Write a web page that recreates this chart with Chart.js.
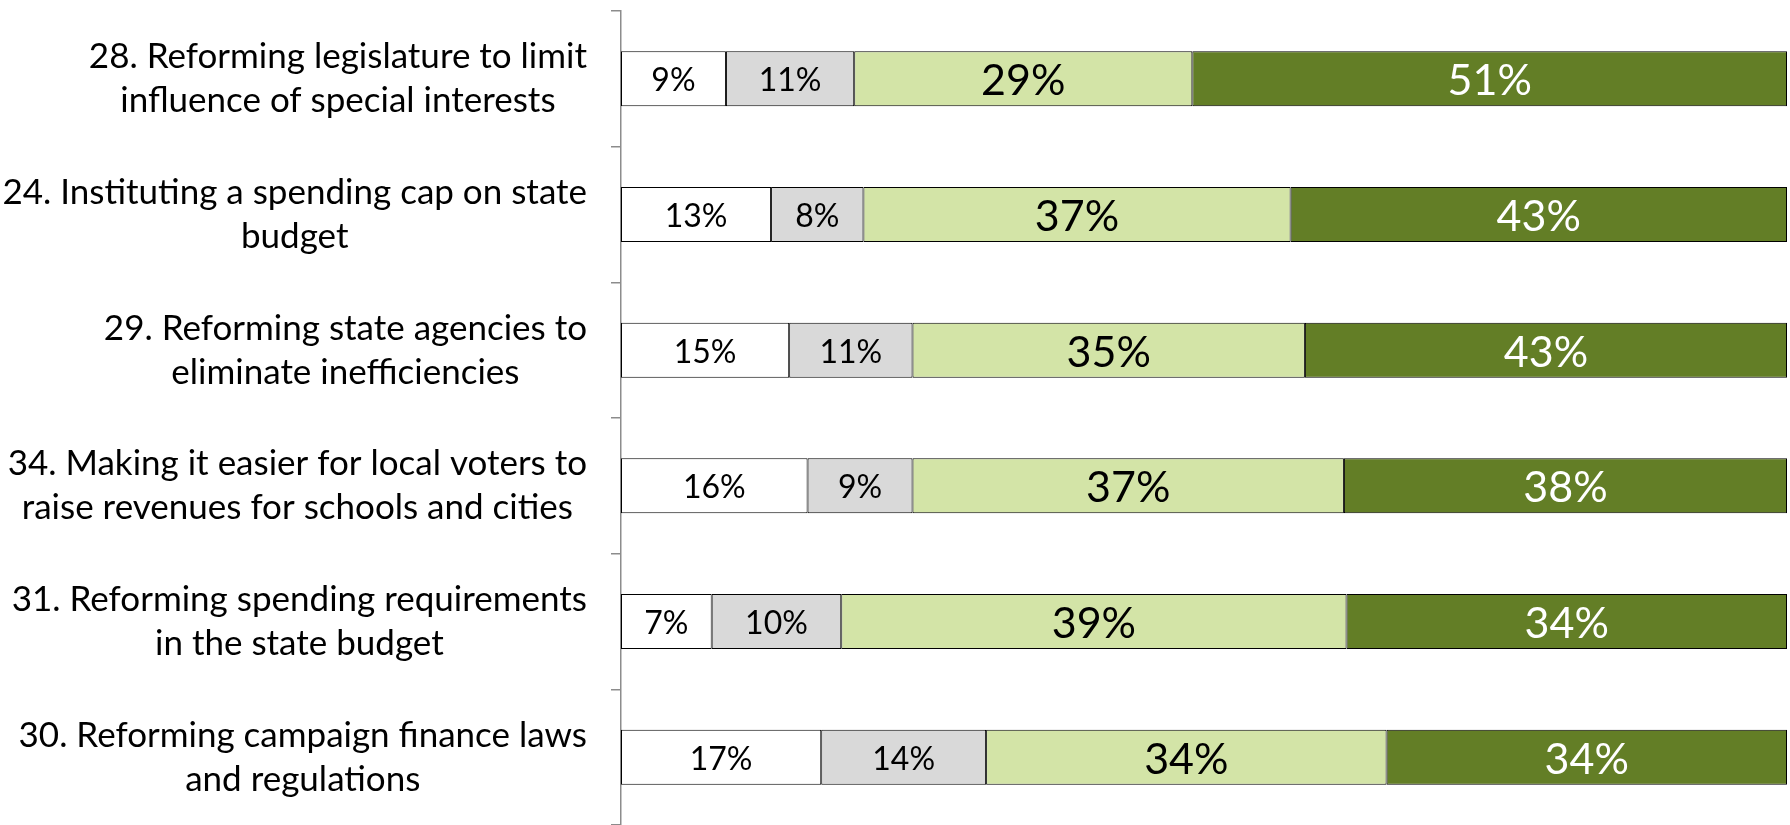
<!DOCTYPE html>
<html>
<head>
<meta charset="utf-8">
<script src="https://cdn.jsdelivr.net/npm/chart.js@4/dist/chart.umd.min.js"></script>
<style>
html, body { margin: 0; padding: 0; background: #ffffff; overflow: hidden; }
#wrap { width: 1790px; height: 825px; position: relative; }
</style>
</head>
<body>
<div id="wrap"><canvas id="c" width="1790" height="825"></canvas></div>
<script>
// ---- data ----
const categories = [
  ["28. Reforming legislature to limit", "influence of special interests"],
  ["24. Instituting a spending cap on state", "budget"],
  ["29. Reforming state agencies to", "eliminate inefficiencies"],
  ["34. Making it easier for local voters to", "raise revenues for schools and cities"],
  ["31. Reforming spending requirements", "in the state budget"],
  ["30. Reforming campaign finance laws", "and regulations"]
];
const seriesNames = ["Don't know", "Not too important", "Somewhat important", "Very important"];
const dontKnow          = [9, 13, 15, 16, 7, 17];
const notImportant      = [11, 8, 11, 9, 10, 14];
const somewhatImportant = [29, 37, 35, 37, 39, 34];
const veryImportant     = [51, 43, 43, 38, 34, 34];

// ---- styling ----
const seriesValues = [dontKnow, notImportant, somewhatImportant, veryImportant];
const fills = ["#ffffff", "#d9d9d9", "#d3e4a7", "#637e26"];
const textColors = ["#000000", "#000000", "#000000", "#ffffff"];
const labelSizes = [32, 32, 43, 43];
const FONT = "Lato";

// each row is drawn as a share of its own total (100% stacked)
const rowTotals = categories.map((_, i) => seriesValues.reduce((s, arr) => s + arr[i], 0));

const datasets = seriesValues.map((vals, k) => ({
  label: seriesNames[k],
  raw: vals,
  data: vals.map((v, i) => v / rowTotals[i] * 100),
  backgroundColor: fills[k],
  borderColor: "#000000",
  borderWidth: 1,
  borderSkipped: false,
  barPercentage: 0.405,
  categoryPercentage: 1.0
}));

const valueLabels = {
  id: "valueLabels",
  afterDatasetsDraw(chart) {
    const ctx = chart.ctx;
    ctx.save();
    ctx.textAlign = "center";
    ctx.textBaseline = "alphabetic";
    chart.data.datasets.forEach((ds, di) => {
      const meta = chart.getDatasetMeta(di);
      const size = labelSizes[di];
      ctx.font = size + "px " + FONT;
      ctx.fillStyle = textColors[di];
      meta.data.forEach((bar, i) => {
        const x = (bar.x + bar.base) / 2;
        const y = bar.y + size * 0.358 + 1;
        ctx.fillText(ds.raw[i] + "%", x, y);
      });
    });
    ctx.restore();
  }
};

const LABEL_RIGHT = 587;
const LABEL_SIZE = 35;
const LINE_GAP = 44;
const categoryLabels = {
  id: "categoryLabels",
  afterDraw(chart) {
    const ctx = chart.ctx;
    const ys = chart.scales.y;
    ctx.save();
    ctx.font = LABEL_SIZE + "px " + FONT;
    ctx.fillStyle = "#000000";
    ctx.textAlign = "center";
    ctx.textBaseline = "alphabetic";
    categories.forEach((lines, i) => {
      const yc = ys.getPixelForValue(i);
      const widest = Math.max(...lines.map(l => ctx.measureText(l).width));
      const cx = LABEL_RIGHT - widest / 2;
      const n = lines.length;
      lines.forEach((line, j) => {
        const lineMid = yc + (j - (n - 1) / 2) * LINE_GAP;
        ctx.fillText(line, cx, lineMid + LABEL_SIZE * 0.358 - 1);
      });
    });
    ctx.restore();
  }
};

new Chart(document.getElementById("c"), {
  type: "bar",
  data: { labels: categories, datasets: datasets },
  plugins: [valueLabels, categoryLabels],
  options: {
    indexAxis: "y",
    responsive: false,
    animation: false,
    events: [],
    layout: { padding: { left: 0, top: 11, right: 3, bottom: 0 } },
    plugins: { legend: { display: false }, tooltip: { enabled: false } },
    scales: {
      x: { stacked: true, min: 0, max: 100, display: false },
      y: {
        stacked: true,
        grid: { offset: true, drawOnChartArea: false, drawTicks: true, tickLength: 10, color: "#8c8c8c", lineWidth: 1.5 },
        border: { display: true, color: "#8c8c8c", width: 1.5 },
        ticks: { display: false },
        afterFit(scale) { scale.width = 621; }
      }
    }
  }
});
</script>
</body>
</html>
